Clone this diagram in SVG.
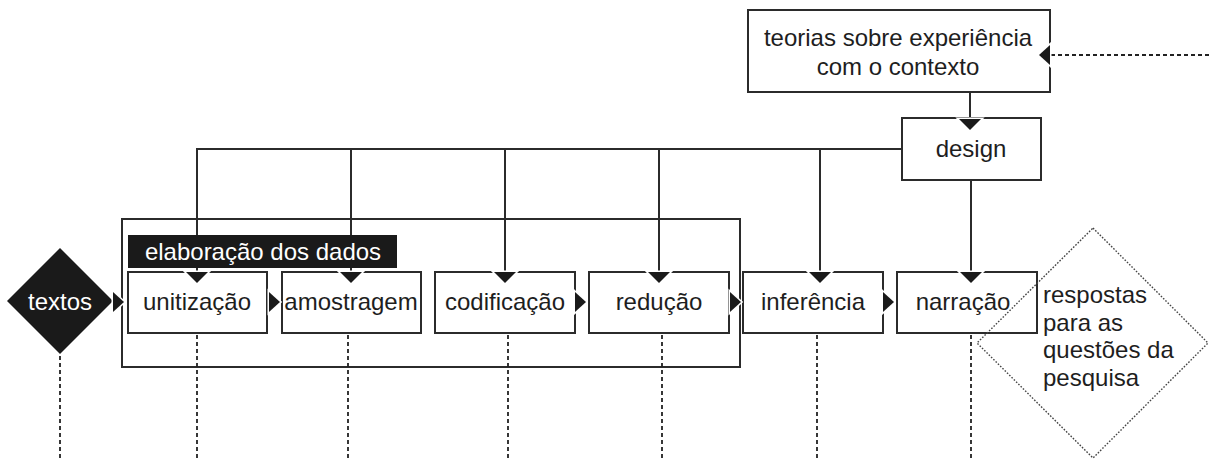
<svg xmlns="http://www.w3.org/2000/svg" width="1209" height="459" viewBox="0 0 1209 459">
<style>
.box{fill:#fff;stroke:#2b2b2b;stroke-width:2}
.frame{fill:none;stroke:#2b2b2b;stroke-width:2}
.lbl{font-family:"Liberation Sans",Arial,sans-serif;font-size:24px;fill:#1e1e1e;text-anchor:middle}
.inv{fill:#fff}
.ln{fill:none;stroke:#2b2b2b;stroke-width:2}
.dash{fill:none;stroke:#222;stroke-width:1.8;stroke-dasharray:4 3}
.dot{fill:none;stroke:#444;stroke-width:1.4;stroke-dasharray:1.6 1.6}
</style>
<defs>
<marker id="ah" markerUnits="userSpaceOnUse" markerWidth="16" markerHeight="28" refX="11" refY="11" orient="auto" overflow="visible">
<path d="M0,0 L11,11 L0,22 Z" fill="#1a1a1a" stroke="#fff" stroke-width="3" paint-order="stroke"/>
</marker>
<marker id="ahs" markerUnits="userSpaceOnUse" markerWidth="16" markerHeight="28" refX="11" refY="10" orient="auto" overflow="visible">
<path d="M0,0 L11,10 L0,20 Z" fill="#1a1a1a" stroke="#fff" stroke-width="3" paint-order="stroke"/>
</marker>
</defs>
<rect x="0" y="0" width="1209" height="459" fill="#fff"/>

<g id="elaboracao-frame">
<rect class="frame" x="122" y="219" width="618" height="148"/>
</g>

<g id="teorias">
<rect class="box" x="748" y="10" width="302" height="82"/>
<text class="lbl" x="898" y="46">teorias sobre experiência</text>
<text class="lbl" x="898" y="75">com o contexto</text>
</g>
<g id="design">
<rect class="box" x="902" y="118" width="139" height="62"/>
<text class="lbl" x="971" y="157">design</text>
</g>
<g id="textos">
<polygon points="60,248 113,301 60,354 7,301" fill="#1a1a1a"/>
<text class="lbl inv" x="60" y="310">textos</text>
</g>
<g id="unitizacao">
<rect class="box" x="128" y="272" width="139" height="61"/>
<text class="lbl" x="197" y="310">unitização</text>
</g>
<g id="amostragem">
<rect class="box" x="282" y="272" width="139" height="61"/>
<text class="lbl" x="351" y="310">amostragem</text>
</g>
<g id="codificacao">
<rect class="box" x="435" y="272" width="140" height="61"/>
<text class="lbl" x="505" y="310">codificação</text>
</g>
<g id="reducao">
<rect class="box" x="589" y="272" width="140" height="61"/>
<text class="lbl" x="659" y="310">redução</text>
</g>
<g id="inferencia">
<rect class="box" x="743" y="272" width="140" height="61"/>
<text class="lbl" x="813" y="310">inferência</text>
</g>
<g id="narracao">
<rect class="box" x="897" y="272" width="140" height="61"/>
<text class="lbl" x="963" y="310">narração</text>
</g>

<g id="connectors">
<path class="ln" d="M970,92 V130" marker-end="url(#ah)"/>
<path class="ln" d="M902,149 H197 V283" marker-end="url(#ah)"/>
<path class="ln" d="M351,149 V283" marker-end="url(#ah)"/>
<path class="ln" d="M505,149 V283" marker-end="url(#ah)"/>
<path class="ln" d="M659,149 V283" marker-end="url(#ah)"/>
<path class="ln" d="M820,149 V283" marker-end="url(#ah)"/>
<path class="ln" d="M971,180 V283" marker-end="url(#ah)"/>
<path class="ln" d="M114,302 H124" marker-end="url(#ahs)"/>
<path class="ln" d="M269,302 H280" marker-end="url(#ahs)"/>
<path class="ln" d="M575,302 H586" marker-end="url(#ahs)"/>
<path class="ln" d="M730,302 H741" marker-end="url(#ahs)"/>
<path class="ln" d="M883,302 H894" marker-end="url(#ahs)"/>
<path class="dash" d="M1209,55 H1050"/>
<path d="M1050,55 H1039" stroke="none" marker-end="url(#ahs)"/>
<path class="dash" d="M60,356 V459 M197,335 V459 M348,335 V459 M508,335 V459 M662,335 V459 M817,335 V459 M971,335 V459"/>
</g>

<g id="label-elaboracao">
<rect x="128" y="235" width="269" height="33" fill="#1a1a1a"/>
<text class="lbl inv" x="263" y="260">elaboração dos dados</text>
</g>

<g id="respostas">
<polygon class="dot" points="1093,228 1208,343 1093,458 977,343"/>
<text class="lbl" style="text-anchor:start" x="1043" y="303">respostas</text>
<text class="lbl" style="text-anchor:start" x="1043" y="331">para as</text>
<text class="lbl" style="text-anchor:start" x="1043" y="358">questões da</text>
<text class="lbl" style="text-anchor:start" x="1043" y="386">pesquisa</text>
</g>
</svg>
